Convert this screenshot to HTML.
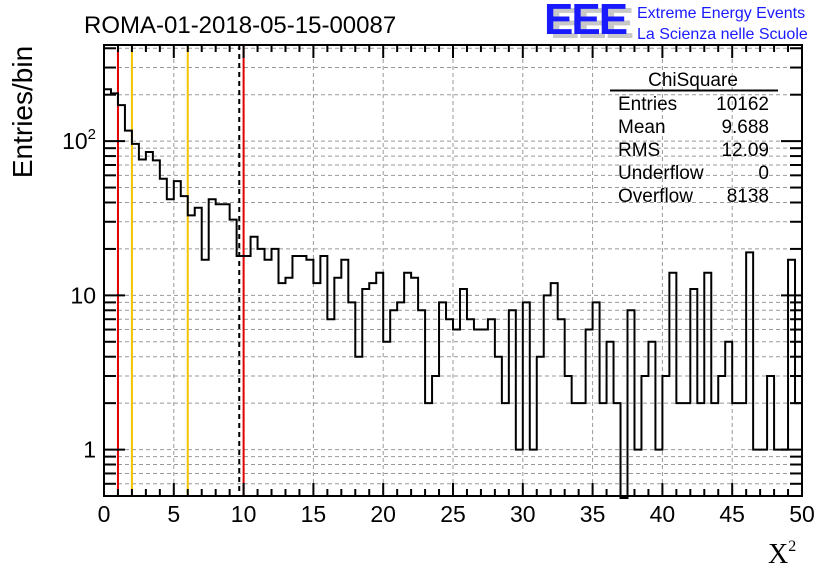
<!DOCTYPE html>
<html><head><meta charset="utf-8"><style>
html,body{margin:0;padding:0;background:#fff}
svg{display:block;font-family:"Liberation Sans",sans-serif}
</style></head><body>
<svg id="chart" width="836" height="572" viewBox="0 0 836 572" xmlns="http://www.w3.org/2000/svg">
<rect width="836" height="572" fill="#fff"/>
<g id="grid"></g>
<g id="vlines"></g>
<path id="hist" fill="none" stroke="#000" stroke-width="2"/>
<rect x="104" y="45" width="698" height="451" fill="none" stroke="#000" stroke-width="2"/>
<g id="ticks" stroke="#000" stroke-width="2"></g>
<g id="labels" font-size="23" fill="#000"></g>
<text x="84" y="33" font-size="24">ROMA-01-2018-05-15-00087</text>
<text transform="translate(32,112) rotate(-90)" text-anchor="middle" font-size="28">Entries/bin</text>
<text x="768" y="563" font-size="28" font-family="Liberation Serif,serif">X<tspan font-size="16" dy="-12">2</tspan></text>
<g>
<text x="550" y="38" font-size="44" font-weight="bold" fill="#c8c8c8" letter-spacing="-2">EEE</text>
<text x="544" y="34" font-size="44" font-weight="bold" fill="#1a1aff" letter-spacing="-2">EEE</text>
<text x="637" y="18" font-size="16" fill="#1a1aff">Extreme Energy Events</text>
<text x="637" y="39" font-size="16" fill="#1a1aff">La Scienza nelle Scuole</text>
</g>
<g font-size="19" fill="#000">
<text x="693" y="86" text-anchor="middle">ChiSquare</text>
<line x1="610" y1="90.5" x2="778" y2="90.5" stroke="#000" stroke-width="2"/>
<text x="618" y="110">Entries</text><text x="769" y="110" text-anchor="end">10162</text>
<text x="618" y="133">Mean</text><text x="769" y="133" text-anchor="end">9.688</text>
<text x="618" y="156">RMS</text><text x="769" y="156" text-anchor="end">12.09</text>
<text x="618" y="179">Underflow</text><text x="769" y="179" text-anchor="end">0</text>
<text x="618" y="202">Overflow</text><text x="769" y="202" text-anchor="end">8138</text>
</g>
</svg>
<script>
const binCounts = [217,204,171,117,96,76,85,75,57,42,55,44,33,37,17,42,39,39,31,18,
18,24,20,17,20,12,13,18,18,17,12,18,7,13,17,9,4,11,12,14,
5,8,9,14,13,8,2,3,9,7,6,11,7,6,6,7,4,2,8,1,
9,1,4,10,12,7,3,2,2,6,9,2,5,2,0,8,1,3,5,1,
3,14,2,2,11,2,14,2,3,5,2,2,19,1,1,3,1,1,17,2];
const xTickLabels = [0,5,10,15,20,25,30,35,40,45,50];
const yTickValues = [1,10,100];
const yTickBase = ["1","10","10"];
const yTickExp = ["","","2"];
const refLines = [1,2,6,9.688,10];
const refColors = ["#e00000","#f5c400","#f5c400","#000","#e00000"];

const NS="http://www.w3.org/2000/svg";
const X0=104,X1=802,Y0=496,Y1=45,XMIN=0,XMAX=50,BW=0.5;
const LMIN=Math.log10(0.5),LMAX=Math.log10(420);
function xs(v){return X0+(v-XMIN)/(XMAX-XMIN)*(X1-X0);}
function ys(v){if(v<=0)return Y0+2;const l=Math.log10(v);return Y0-(l-LMIN)/(LMAX-LMIN)*(Y0-Y1);}
function mk(tag,attrs,parent){const e=document.createElementNS(NS,tag);for(const k in attrs)e.setAttribute(k,attrs[k]);parent.appendChild(e);return e;}

const grid=document.getElementById('grid');
for(let v=5;v<50;v+=5){const e=mk('line',{x1:xs(v),x2:xs(v),y1:Y1,y2:Y0,stroke:'#999','stroke-dasharray':'4,3','stroke-width':1},grid);

}
for(let d=0.1;d<=100;d*=10){for(let m=1;m<10;m++){const v=Math.round(d*m*1000)/1000;if(v<0.5||v>420)continue;
const e=mk('line',{x1:X0,x2:X1,y1:ys(v),y2:ys(v),stroke:'#999','stroke-dasharray':'4,3','stroke-width':1},grid);

}}

const vl=document.getElementById('vlines');
refLines.forEach((v,i)=>{const a={x1:xs(v),x2:xs(v),y1:Y1,y2:Y0,stroke:refColors[i],'stroke-width':2};if(refColors[i]==='#000')a['stroke-dasharray']='5,4';
const e=mk('line',a,vl);

});

let d='M'+X0+','+ys(binCounts[0]);
binCounts.forEach((c,i)=>{const y=ys(c);d+=' L'+xs(i*BW)+','+y+' L'+xs((i+1)*BW)+','+y;});
document.getElementById('hist').setAttribute('d',d);

const tk=document.getElementById('ticks'),lb=document.getElementById('labels');
for(let v=0;v<=50;v+=1){const L=(v%5===0)?13:7;const x=xs(v);
mk('line',{x1:x,x2:x,y1:Y0,y2:Y0-L},tk);mk('line',{x1:x,x2:x,y1:Y1,y2:Y1+L},tk);}
xTickLabels.forEach(v=>{const t=mk('text',{x:xs(v),y:522,'text-anchor':'middle'},lb);t.textContent=v;

});
for(let dd=0.1;dd<=100;dd*=10){for(let m=1;m<10;m++){const v=Math.round(dd*m*1000)/1000;if(v<0.5||v>420)continue;const L=(m===1)?21:12;const y=ys(v);
mk('line',{x1:X0,x2:X0+L,y1:y,y2:y},tk);mk('line',{x1:X1,x2:X1-L,y1:y,y2:y},tk);}}
yTickValues.forEach((v,i)=>{const t=mk('text',{x:96,y:ys(v)+8,'text-anchor':'end'},lb);


t.appendChild(document.createTextNode(yTickBase[i]));
if(yTickExp[i]){const s=mk('tspan',{'font-size':'15',dy:'-10'},t);s.textContent=yTickExp[i];}});
</script>
</body></html>
